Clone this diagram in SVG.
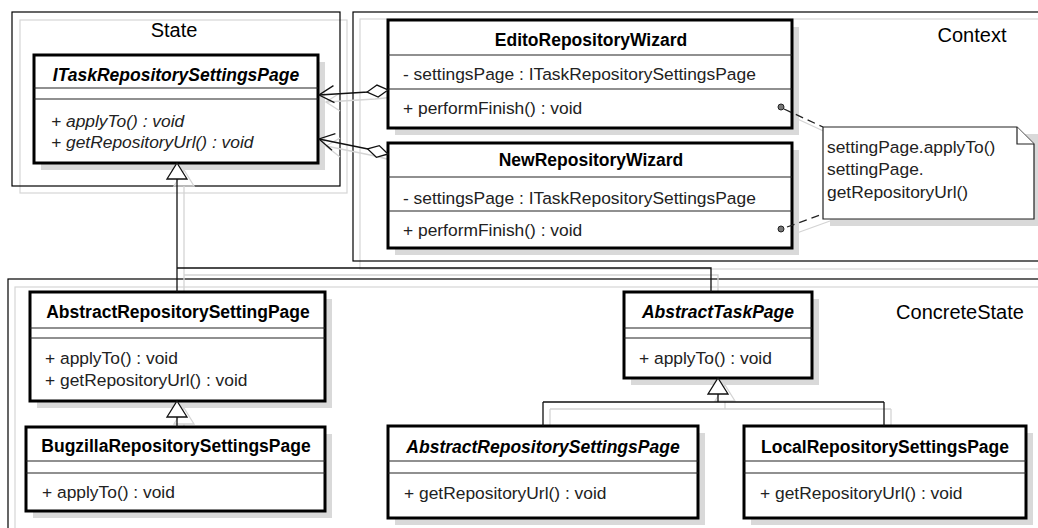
<svg xmlns="http://www.w3.org/2000/svg" width="1038" height="528" viewBox="0 0 1038 528">
  <style>
    .pkg { fill: none; stroke: #000; stroke-width: 1.2; }
    .pkg-sh { fill: none; stroke: #d6d6d6; stroke-width: 1.2; }
    .pkg-title { font-family: "Liberation Sans", Arial, sans-serif; font-size: 20px; fill: #000; text-anchor: middle; }
    .box { fill: #fff; stroke: #000; stroke-width: 3; }
    .box-sh { fill: #d9d9d9; }
    .div { stroke: #222; stroke-width: 1.2; }
    .title { font-family: "Liberation Sans", Arial, sans-serif; font-size: 17.5px; font-weight: bold; fill: #000; text-anchor: middle; }
    .abs { font-style: italic; }
    .mem { font-family: "Liberation Sans", Arial, sans-serif; font-size: 17.4px; fill: #222; }
    .line { fill: none; stroke: #111; stroke-width: 1.3; }
    .sh { fill: none; stroke: #d4d4d4; stroke-width: 1.3; }
    .tri { fill: #fff; stroke: #111; stroke-width: 1.3; }
    .dash { fill: none; stroke: #222; stroke-width: 1.3; stroke-dasharray: 8 5; }
    .note { fill: #fff; stroke: #222; stroke-width: 1.2; }
    .dot { fill: #777; stroke: #222; stroke-width: 1; }
  </style>
  <defs>
    <marker id="diamond" markerUnits="userSpaceOnUse" markerWidth="24" markerHeight="14" refX="1" refY="7" orient="auto" viewBox="0 0 24 14">
      <path d="M1,7 L11.5,1 L22,7 L11.5,13 Z" fill="#fff" stroke="#111" stroke-width="1.3"/>
    </marker>
    <marker id="open" markerUnits="userSpaceOnUse" markerWidth="18" markerHeight="20" refX="16" refY="10" orient="auto" viewBox="0 0 18 20">
      <path d="M1,1.5 L16,10 L1,18.5" fill="none" stroke="#111" stroke-width="1.3"/>
    </marker>
  </defs>

  <rect width="1038" height="528" fill="#fff"/>

  <!-- package frames -->
  <g id="pkg-state">
    <rect class="pkg-sh" x="20" y="20" width="327" height="173"/>
    <rect class="pkg" x="12" y="12" width="328" height="174"/>
    <text class="pkg-title" x="174" y="37">State</text>
  </g>
  <g id="pkg-context">
    <rect class="pkg-sh" x="360" y="19" width="700" height="250"/>
    <rect class="pkg" x="353" y="12" width="700" height="249"/>
    <text class="pkg-title" x="972" y="42">Context</text>
  </g>
  <g id="pkg-concrete">
    <rect class="pkg-sh" x="15" y="287" width="1040" height="260"/>
    <rect class="pkg" x="8" y="279" width="1040" height="260"/>
    <text class="pkg-title" x="960" y="319">ConcreteState</text>
  </g>

  <!-- connector shadows -->
  <g id="connector-shadows" transform="translate(7,7)">
    <path class="sh" d="M177,179 V292 M177,268 H711 V292"/>
    <path class="sh" d="M177,163 L187,179 H167 Z"/>
    <path class="sh" d="M177,401 L187,417 H167 Z M177,417 V427"/>
    <path class="sh" d="M718,378 L728,394 H708 Z M718,394 V402 M543,402 H884 M543,402 V426 M884,402 V426"/>
    <path class="sh" d="M388,90 L368,92 L319,95 M333,86 L319,95 L333,104"/>
    <path class="sh" d="M388,154 L368,149 L319,139 M333,131 L319,139 L333,150"/>
    <path class="sh" d="M784,109 L825,128 M787,227 L823,214"/>
  </g>

  <!-- State -->
  <g id="ITaskRepositorySettingsPage">
    <rect class="box-sh" x="41" y="62" width="284" height="108"/>
    <rect class="box" x="34" y="55" width="284" height="108"/>
    <line class="div" x1="34" y1="88" x2="318" y2="88"/>
    <line class="div" x1="34" y1="99" x2="318" y2="99"/>
    <text class="title abs" x="176" y="81">ITaskRepositorySettingsPage</text>
    <text class="mem abs" x="51" y="127">+ applyTo() : void</text>
    <text class="mem abs" x="51" y="148">+ getRepositoryUrl() : void</text>
  </g>

  <!-- Context -->
  <g id="EditoRepositoryWizard">
    <rect class="box-sh" x="395" y="27" width="404" height="108"/>
    <rect class="box" x="388" y="20" width="404" height="108"/>
    <line class="div" x1="388" y1="55" x2="792" y2="55"/>
    <line class="div" x1="388" y1="89" x2="792" y2="89"/>
    <text class="title" x="591" y="46">EditoRepositoryWizard</text>
    <text class="mem" x="403" y="80">- settingsPage : ITaskRepositorySettingsPage</text>
    <text class="mem" x="403" y="114">+ performFinish() : void</text>
  </g>
  <g id="NewRepositoryWizard">
    <rect class="box-sh" x="395" y="150" width="404" height="105"/>
    <rect class="box" x="388" y="143" width="404" height="105"/>
    <line class="div" x1="388" y1="177" x2="792" y2="177"/>
    <line class="div" x1="388" y1="211" x2="792" y2="211"/>
    <text class="title" x="591" y="166">NewRepositoryWizard</text>
    <text class="mem" x="403" y="204">- settingsPage : ITaskRepositorySettingsPage</text>
    <text class="mem" x="403" y="236">+ performFinish() : void</text>
  </g>
  <g id="note">
    <path fill="#d9d9d9" d="M830,134 H1041 V226 H830 Z"/>
    <path class="note" d="M823,127 H1017 L1034,144 V219 H823 Z"/>
    <path class="note" d="M1017,127 V144 H1034"/>
    <text class="mem" x="827" y="153">settingPage.applyTo()</text>
    <text class="mem" x="827" y="175">settingPage.</text>
    <text class="mem" x="827" y="198">getRepositoryUrl()</text>
  </g>

  <!-- ConcreteState -->
  <g id="AbstractRepositorySettingPage">
    <rect class="box-sh" x="37" y="299" width="295" height="109"/>
    <rect class="box" x="30" y="292" width="295" height="109"/>
    <line class="div" x1="30" y1="328" x2="325" y2="328"/>
    <line class="div" x1="30" y1="338" x2="325" y2="338"/>
    <text class="title" x="178" y="318">AbstractRepositorySettingPage</text>
    <text class="mem" x="45" y="364">+ applyTo() : void</text>
    <text class="mem" x="45" y="386">+ getRepositoryUrl() : void</text>
  </g>
  <g id="BugzillaRepositorySettingsPage">
    <rect class="box-sh" x="33" y="434" width="299" height="84"/>
    <rect class="box" x="26" y="427" width="299" height="84"/>
    <line class="div" x1="26" y1="461" x2="325" y2="461"/>
    <line class="div" x1="26" y1="473" x2="325" y2="473"/>
    <text class="title" x="176" y="452">BugzillaRepositorySettingsPage</text>
    <text class="mem" x="42" y="498">+ applyTo() : void</text>
  </g>
  <g id="AbstractTaskPage">
    <rect class="box-sh" x="631" y="299" width="188" height="86"/>
    <rect class="box" x="624" y="292" width="188" height="86"/>
    <line class="div" x1="624" y1="328" x2="812" y2="328"/>
    <line class="div" x1="624" y1="338" x2="812" y2="338"/>
    <text class="title abs" x="718" y="318">AbstractTaskPage</text>
    <text class="mem" x="639" y="364">+ applyTo() : void</text>
  </g>
  <g id="AbstractRepositorySettingsPage">
    <rect class="box-sh" x="395" y="433" width="310" height="92"/>
    <rect class="box" x="388" y="426" width="310" height="92"/>
    <line class="div" x1="388" y1="461" x2="698" y2="461"/>
    <line class="div" x1="388" y1="473" x2="698" y2="473"/>
    <text class="title abs" x="543" y="453">AbstractRepositorySettingsPage</text>
    <text class="mem" x="404" y="499">+ getRepositoryUrl() : void</text>
  </g>
  <g id="LocalRepositorySettingsPage">
    <rect class="box-sh" x="751" y="433" width="282" height="92"/>
    <rect class="box" x="744" y="426" width="282" height="92"/>
    <line class="div" x1="744" y1="461" x2="1026" y2="461"/>
    <line class="div" x1="744" y1="473" x2="1026" y2="473"/>
    <text class="title" x="885" y="453">LocalRepositorySettingsPage</text>
    <text class="mem" x="760" y="499">+ getRepositoryUrl() : void</text>
  </g>

  <!-- connectors -->
  <g id="connectors">
    <!-- realisation of ITaskRepositorySettingsPage -->
    <path class="line" d="M177,179 V292 M177,268 H711 V292"/>
    <path class="tri" d="M177,163 L187,179 H167 Z"/>
    <!-- Bugzilla extends AbstractRepositorySettingPage -->
    <path class="line" d="M177,417 V427"/>
    <path class="tri" d="M177,401 L187,417 H167 Z"/>
    <!-- subclasses of AbstractTaskPage -->
    <path class="line" d="M718,394 V402 M543,402 H884 M543,402 V426 M884,402 V426"/>
    <path class="tri" d="M718,378 L728,394 H708 Z"/>
    <!-- aggregations towards the state interface -->
    <path class="line" d="M388,90 L368,92 L319,95" marker-start="url(#diamond)" marker-end="url(#open)"/>
    <path class="line" d="M388,154 L368,149 L319,139" marker-start="url(#diamond)" marker-end="url(#open)"/>
    <!-- note anchors -->
    <path class="dash" d="M784,109 L823,127"/>
    <path class="dash" d="M787,227 L823,214"/>
    <circle class="dot" cx="781" cy="107" r="3"/>
    <circle class="dot" cx="781" cy="229" r="3"/>
  </g>
</svg>
